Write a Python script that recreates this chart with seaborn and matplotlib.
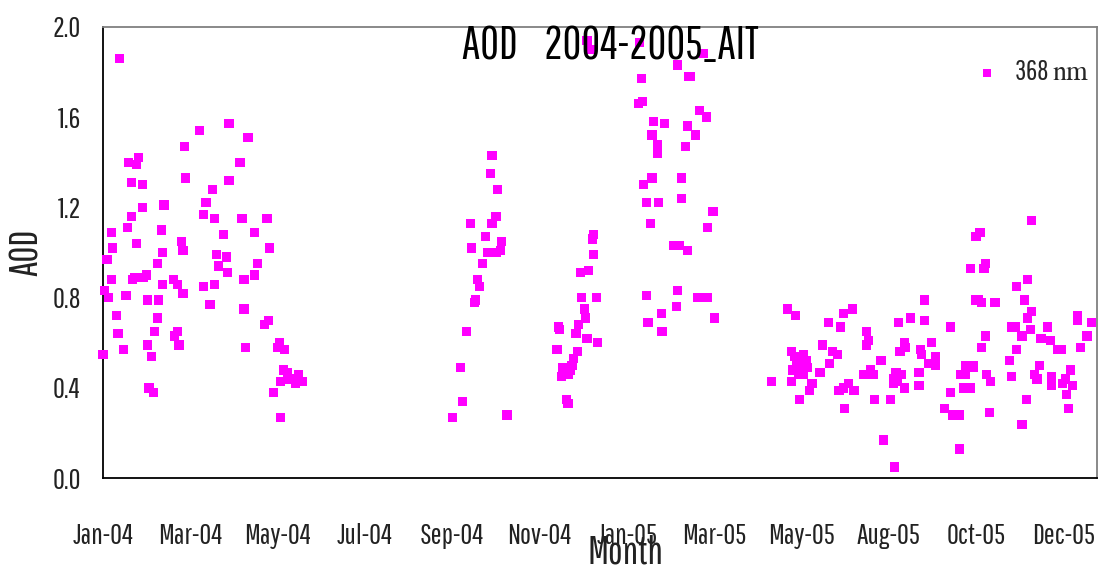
import numpy as np
import pandas as pd
import matplotlib
matplotlib.use("Agg")
import matplotlib.pyplot as plt
import matplotlib.dates as mdates
import seaborn as sns

# ---------------- data (days since 2004-01-01, AOD at 368 nm) ----------------
days_2004_spring = [12, 71, 60, 26, 19, 25, 61, 21, 29, 45, 29, 21, 18, 6, 43, 58, 25, 59, 7, 44,
                    3, 40, 6, 22, 23, 30, 32, 44, 52, 55, 59, 1, 4, 17, 33, 41, 10, 40, 11, 38,
                    55, 53, 33, 56, 15, 0, 36, 34, 37, 93, 107, 101, 93, 81, 76, 74, 82, 102, 103, 121,
                    89, 112, 123, 84, 91, 85, 114, 92, 112, 104, 74, 82, 79, 104, 122, 119, 105, 130, 129, 134,
                    133, 136, 144, 131, 138, 142, 147, 126, 131]
aod_2004_spring = [1.86, 1.54, 1.47, 1.42, 1.40, 1.39, 1.33, 1.31, 1.30, 1.21, 1.20, 1.16, 1.11, 1.09, 1.10, 1.05, 1.04, 1.01, 1.02, 1.00,
                   0.97, 0.95, 0.88, 0.88, 0.89, 0.89, 0.90, 0.86, 0.88, 0.86, 0.82, 0.83, 0.80, 0.81, 0.79, 0.79, 0.72, 0.71, 0.64, 0.65,
                   0.65, 0.63, 0.59, 0.59, 0.57, 0.55, 0.54, 0.40, 0.38, 1.57, 1.51, 1.40, 1.32, 1.28, 1.22, 1.17, 1.15, 1.15, 1.15, 1.15,
                   1.08, 1.09, 1.02, 0.99, 0.98, 0.94, 0.95, 0.91, 0.90, 0.88, 0.85, 0.86, 0.77, 0.75, 0.70, 0.68, 0.58, 0.60, 0.58, 0.57,
                   0.48, 0.47, 0.46, 0.43, 0.44, 0.42, 0.43, 0.38, 0.27]

days_2004_autumn = [287, 286, 291, 290, 287, 271, 282, 294, 293, 290, 284, 272, 280, 276, 278, 275, 274, 268, 264, 265,
                    258, 298,
                    362, 361, 362, 352, 358, 353, 364, 355, 356, 336, 337, 351, 349, 357, 365, 335, 350, 347, 346,
                    345, 339, 338, 343, 342, 343, 357, 360]
aod_2004_autumn = [1.43, 1.35, 1.28, 1.16, 1.13, 1.13, 1.07, 1.05, 1.01, 1.00, 1.00, 1.02, 0.95, 0.88, 0.85, 0.79, 0.78, 0.65, 0.49, 0.34,
                   0.27, 0.28,
                   1.08, 1.06, 0.99, 0.91, 0.92, 0.80, 0.80, 0.75, 0.71, 0.67, 0.66, 0.68, 0.64, 0.62, 0.60, 0.57, 0.56, 0.53, 0.50,
                   0.48, 0.49, 0.45, 0.46, 0.35, 0.33, 1.94, 1.90]

days_2005_winter = [396, 424, 443, 433, 432, 397, 395, 398, 440, 445, 406, 414, 431, 405, 437, 409, 409, 430, 405, 399,
                    427, 401, 410, 427, 450, 446, 404, 421, 425, 431, 401, 424, 439, 446, 423, 412, 451, 402, 412, 413]
aod_2005_winter = [1.93, 1.83, 1.88, 1.78, 1.78, 1.77, 1.66, 1.67, 1.63, 1.60, 1.58, 1.57, 1.56, 1.52, 1.52, 1.48, 1.44, 1.47, 1.33, 1.30,
                   1.33, 1.22, 1.22, 1.24, 1.18, 1.11, 1.13, 1.03, 1.03, 1.01, 0.81, 0.83, 0.80, 0.80, 0.76, 0.73, 0.71, 0.69, 0.65, 0.65]

days_2005_summer = [606, 505, 511, 546, 553, 535, 544, 587, 596, 606, 563, 531, 565, 563, 591, 592, 588, 603, 604, 611,
                    508, 510, 517, 538, 542, 512, 519, 509, 514, 520, 513, 517, 536, 574, 614, 609, 614, 529, 561, 566,
                    568, 585, 589, 583, 586, 583, 602, 493, 508, 523, 521, 543, 550, 554, 546, 591, 602, 514, 569, 581,
                    547, 576, 584]
aod_2005_summer = [0.79, 0.75, 0.72, 0.73, 0.75, 0.69, 0.67, 0.69, 0.71, 0.70, 0.65, 0.59, 0.61, 0.59, 0.60, 0.58, 0.56, 0.57, 0.55, 0.60,
                   0.56, 0.54, 0.55, 0.56, 0.55, 0.51, 0.52, 0.48, 0.48, 0.49, 0.46, 0.46, 0.51, 0.52, 0.54, 0.51, 0.50, 0.47, 0.46, 0.48,
                   0.46, 0.47, 0.46, 0.44, 0.43, 0.42, 0.47, 0.43, 0.43, 0.42, 0.39, 0.39, 0.42, 0.39, 0.40, 0.40, 0.41, 0.35, 0.35, 0.35,
                   0.31, 0.17, 0.05]

days_2005_autumn = [685, 647, 644, 651, 650, 640, 682, 674, 680, 644, 646, 648, 658, 685, 682, 719, 719, 729, 625, 670,
                    673, 684, 697, 678, 726, 651, 692, 699, 704, 707, 721, 648, 674, 669, 636, 642, 642, 691, 633, 636,
                    652, 655, 670, 687, 689, 700, 700, 714, 710, 708, 715, 711, 635, 640, 625, 681, 712, 621, 627, 632,
                    654, 678, 632]
aod_2005_autumn = [1.14, 1.09, 1.07, 0.95, 0.93, 0.93, 0.88, 0.85, 0.79, 0.79, 0.79, 0.78, 0.78, 0.74, 0.71, 0.72, 0.70, 0.69, 0.67, 0.67,
                   0.67, 0.66, 0.67, 0.63, 0.63, 0.63, 0.62, 0.61, 0.57, 0.57, 0.58, 0.58, 0.57, 0.52, 0.50, 0.50, 0.49, 0.50, 0.46, 0.46,
                   0.46, 0.43, 0.45, 0.46, 0.44, 0.45, 0.41, 0.48, 0.44, 0.42, 0.41, 0.37, 0.40, 0.40, 0.38, 0.35, 0.31, 0.31, 0.28, 0.28,
                   0.29, 0.24, 0.13]

y_ticks = [0.0, 0.4, 0.8, 1.2, 1.6, 2.0]
title_text = "AOD    2004-2005_AIT"
series_label = "368 $\\mathrm{nm}$"
x_label = "Month"
y_label = "AOD"

START = pd.Timestamp("2004-01-01")
TICK_STEP = 64.4          # days between x-axis ticks (Excel date axis)
N_TICKS = 12
X_END_DAYS = 733.3

# ---------------- build frame ----------------
all_days = days_2004_spring + days_2004_autumn + days_2005_winter + days_2005_summer + days_2005_autumn
all_aod = aod_2004_spring + aod_2004_autumn + aod_2005_winter + aod_2005_summer + aod_2005_autumn
df = pd.DataFrame({"date": START + pd.to_timedelta(np.array(all_days, dtype=float), unit="D"),
                   "aod": all_aod})

# ---------------- style ----------------
sns.set_theme(style="white")
FONT = ["Pathway Gothic One", "DejaVu Sans"]
plt.rcParams["font.family"] = FONT
plt.rcParams["mathtext.fontset"] = "stix"

fig = plt.figure(figsize=(10.99, 5.66), dpi=100)
ax = fig.add_axes([103 / 1099, 1 - 478.3 / 566, 994 / 1099, 451.6 / 566])

sns.scatterplot(data=df, x="date", y="aod", marker="s", s=44, color="#FF00FF",
                edgecolor="none", linewidth=0, label=series_label, ax=ax,
                clip_on=False, zorder=3)

ax.set_xlim(START, START + pd.Timedelta(days=X_END_DAYS))
ax.set_ylim(0, 2.0)
ax.set_xticks([START + pd.Timedelta(days=k * TICK_STEP) for k in range(N_TICKS)])
ax.xaxis.set_major_formatter(mdates.DateFormatter("%b-%y"))
ax.set_yticks(y_ticks)
ax.yaxis.set_major_formatter(matplotlib.ticker.FormatStrFormatter("%.1f"))

for side in ["left", "bottom"]:
    ax.spines[side].set_color("black")
    ax.spines[side].set_linewidth(1.3)
for side in ["top", "right"]:
    ax.spines[side].set_color("#808080")
    ax.spines[side].set_linewidth(1.3)

ax.tick_params(axis="both", direction="out", length=7, width=1.1, color="black",
               labelsize=21, labelcolor="#222222")
ax.tick_params(axis="x", pad=25)
ax.tick_params(axis="y", pad=9)
ax.grid(False)

ax.set_xlabel("")
ax.set_ylabel(y_label, fontsize=28, color="#222222")
ax.yaxis.label.set_va("center")
ax.yaxis.set_label_coords((27 - 103) / 994, (478.3 - 252) / 451.6)

fig.text(625 / 1099, 1 - 534 / 566, x_label, ha="center", va="top", fontsize=28, color="#222222")
fig.text(610 / 1099, 1 - 24 / 566, title_text, ha="center", va="top", fontsize=33, color="black")

ax.legend(loc="center right", bbox_to_anchor=((1090 - 103) / 994, (478.3 - 72) / 451.6),
          frameon=False, borderaxespad=0, borderpad=0, handletextpad=0.6,
          handlelength=0.8, fontsize=20, markerscale=0.85)

fig.savefig("out.png", dpi=100)
